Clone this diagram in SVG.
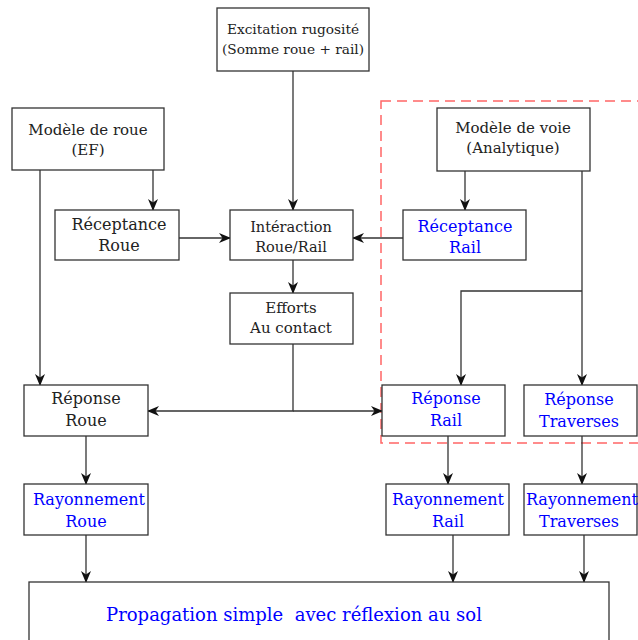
<svg xmlns="http://www.w3.org/2000/svg" width="638" height="640" viewBox="0 0 638 640">
<style>
rect.n{fill:#fff;stroke:#333;stroke-width:1.3}
text{font-family:"DejaVu Serif","Liberation Serif",serif;text-anchor:middle;fill:#222}
.b{fill:#0000ff}
.s14{font-size:13.7px}.s15{font-size:15px}.s145{font-size:14.5px}.s16{font-size:16px}.s18{font-size:18px}
#connectors path{fill:none;stroke:#333;stroke-width:1.3}
</style>
<defs>
<marker id="ah" viewBox="0 0 12 10" refX="11" refY="5" markerWidth="12" markerHeight="10" markerUnits="userSpaceOnUse" orient="auto">
<path d="M0,0 L12,5 L0,10 L3.5,5 z" fill="#111"/>
</marker>
</defs>
<rect x="381" y="101" width="270" height="342" fill="none" stroke="#ff6666" stroke-width="1.5" stroke-dasharray="10,6"/>
<g id="connectors">
<path d="M293,71 V210" marker-end="url(#ah)"/>
<path d="M40,170 V385" marker-end="url(#ah)"/>
<path d="M153,170 V210" marker-end="url(#ah)"/>
<path d="M179,238 H230" marker-end="url(#ah)"/>
<path d="M403,238 H353" marker-end="url(#ah)"/>
<path d="M293,260 V293" marker-end="url(#ah)"/>
<path d="M293,344 V411 H148" marker-end="url(#ah)"/>
<path d="M293,411 H382" marker-end="url(#ah)"/>
<path d="M465,171 V210" marker-end="url(#ah)"/>
<path d="M582,171 V385" marker-end="url(#ah)"/>
<path d="M582,291 H461 V385" marker-end="url(#ah)"/>
<path d="M86,436 V484" marker-end="url(#ah)"/>
<path d="M448,436 V484" marker-end="url(#ah)"/>
<path d="M582,436 V484" marker-end="url(#ah)"/>
<path d="M86,535 V582" marker-end="url(#ah)"/>
<path d="M453,535 V582" marker-end="url(#ah)"/>
<path d="M584,535 V582" marker-end="url(#ah)"/>
</g>
<g id="excitation"><rect class="n" x="217" y="8" width="152" height="63"/><text class="s14" x="293" y="34">Excitation rugosité</text><text class="s14" x="293" y="54">(Somme roue + rail)</text></g>
<g id="modele-roue"><rect class="n" x="12" y="108" width="152" height="62"/><text class="s15" x="88" y="135">Modèle de roue</text><text class="s15" x="88" y="155">(EF)</text></g>
<g id="modele-voie"><rect class="n" x="437" y="108" width="153" height="63"/><text class="s15" x="513" y="133">Modèle de voie</text><text class="s15" x="513" y="153">(Analytique)</text></g>
<g id="receptance-roue"><rect class="n" x="55" y="210" width="124" height="50"/><text class="s16" x="119" y="230">Réceptance</text><text class="s16" x="119" y="251">Roue</text></g>
<g id="interaction"><rect class="n" x="230" y="210" width="123" height="50"/><text class="s145" x="291" y="232">Intéraction</text><text class="s145" x="291" y="252">Roue/Rail</text></g>
<g id="receptance-rail"><rect class="n" x="403" y="210" width="123" height="50"/><text class="s16 b" x="465" y="232">Réceptance</text><text class="s16 b" x="465" y="253">Rail</text></g>
<g id="efforts"><rect class="n" x="230" y="293" width="123" height="51"/><text class="s15" x="291" y="313">Efforts</text><text class="s15" x="291" y="333">Au contact</text></g>
<g id="reponse-roue"><rect class="n" x="24" y="385" width="124" height="51"/><text class="s16" x="86" y="404">Réponse</text><text class="s16" x="86" y="426">Roue</text></g>
<g id="reponse-rail"><rect class="n" x="382" y="385" width="123" height="51"/><text class="s16 b" x="446" y="404">Réponse</text><text class="s16 b" x="446" y="426">Rail</text></g>
<g id="reponse-traverses"><rect class="n" x="524" y="385" width="113" height="51"/><text class="s16 b" x="579" y="405">Réponse</text><text class="s16 b" x="579" y="427">Traverses</text></g>
<g id="rayonnement-roue"><rect class="n" x="24" y="484" width="124" height="51"/><text class="s16 b" x="89" y="505">Rayonnement</text><text class="s16 b" x="86" y="527">Roue</text></g>
<g id="rayonnement-rail"><rect class="n" x="386" y="484" width="123" height="51"/><text class="s16 b" x="448" y="505">Rayonnement</text><text class="s16 b" x="448" y="527">Rail</text></g>
<g id="rayonnement-traverses"><rect class="n" x="524" y="484" width="113" height="51"/><text class="s16 b" x="582" y="505">Rayonnement</text><text class="s16 b" x="579" y="527">Traverses</text></g>
<g id="propagation"><rect class="n" x="29" y="582" width="580" height="70"/><text class="s18 b" x="294" y="621" xml:space="preserve">Propagation simple  avec réflexion au sol</text></g>
</svg>
